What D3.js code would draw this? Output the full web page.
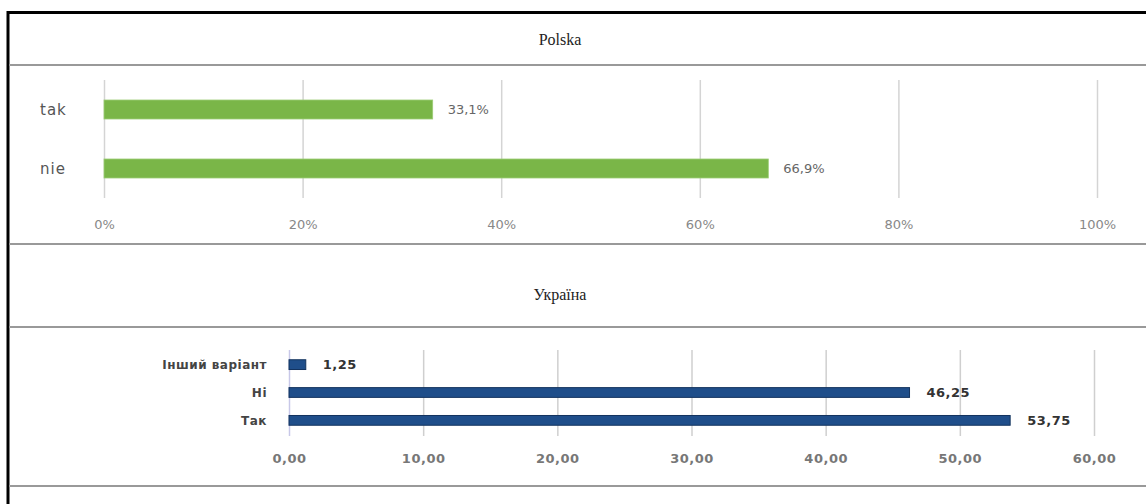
<!DOCTYPE html>
<html>
<head>
<meta charset="utf-8">
<script src="https://cdn.jsdelivr.net/npm/d3@7"></script>
<style>
  body { margin: 0; background: #fff; }
</style>
</head>
<body>
<div id="chart"></div>
<script>
var plCategories = ['tak', 'nie']
var plValues = [33.1, 66.9]
var plTicks = [0, 20, 40, 60, 80, 100]

var uaCategories = ['Інший варіант', 'Ні', 'Так']
var uaValues = [1.25, 46.25, 53.75]
var uaTicks = [0, 10, 20, 30, 40, 50, 60]

var width = 1146
var height = 504

var svg = d3
  .select('#chart')
  .append('svg')
  .attr('width', width)
  .attr('height', height)

svg.append('rect').attr('width', width).attr('height', height).attr('fill', '#fff')

// frame: black top + left, grey dividers
svg.append('line').attr('x1', 7).attr('x2', width).attr('y1', 12.5).attr('y2', 12.5)
  .attr('stroke', '#000').attr('stroke-width', 3)
svg.append('line').attr('x1', 8).attr('x2', 8).attr('y1', 11).attr('y2', height)
  .attr('stroke', '#000').attr('stroke-width', 3)

;[65, 244, 327, 486].forEach(function(y) {
  svg.append('line').attr('x1', 9).attr('x2', width).attr('y1', y).attr('y2', y)
    .attr('stroke', '#999').attr('stroke-width', 2)
})

// titles
svg.append('text').attr('x', 560).attr('y', 45).attr('text-anchor', 'middle')
  .attr('font-family', 'Liberation Serif, Times New Roman, serif').attr('font-size', 16)
  .attr('fill', '#222').text('Polska')
svg.append('text').attr('x', 560).attr('y', 300).attr('text-anchor', 'middle')
  .attr('font-family', 'Liberation Serif, Times New Roman, serif').attr('font-size', 16)
  .attr('fill', '#222').text('Україна')

// ---- Polska ----
var xPl = d3.scaleLinear().domain([0, 100]).range([104, 1097])
var yPl = d3.scaleBand().domain(plCategories).range([80, 198]).paddingInner(0.678).paddingOuter(0.339)

var gPl = svg.append('g')

gPl.selectAll('.grid')
  .data(plTicks)
  .enter()
  .append('line')
  .attr('x1', d => xPl(d) + 0.5)
  .attr('x2', d => xPl(d) + 0.5)
  .attr('y1', 80)
  .attr('y2', 198)
  .attr('stroke', '#d4d4d4')
  .attr('stroke-width', 1.5)

gPl.selectAll('.bar')
  .data(plValues)
  .enter()
  .append('rect')
  .attr('x', xPl(0))
  .attr('y', (d, i) => yPl(plCategories[i]))
  .attr('width', d => xPl(d) - xPl(0))
  .attr('height', yPl.bandwidth())
  .attr('fill', '#7ab648')
  .attr('stroke', '#9ccc75')
  .attr('stroke-width', 0.8)

gPl.selectAll('.val')
  .data(plValues)
  .enter()
  .append('text')
  .attr('x', d => xPl(d) + 15)
  .attr('y', (d, i) => yPl(plCategories[i]) + yPl.bandwidth() / 2)
  .attr('dy', '0.35em')
  .attr('font-family', 'DejaVu Sans, Verdana, sans-serif')
  .attr('font-size', 13)
  .attr('fill', '#666')
  .text(d => d.toFixed(1).replace('.', ',') + '%')

gPl.selectAll('.cat')
  .data(plCategories)
  .enter()
  .append('text')
  .attr('x', 40)
  .attr('y', d => yPl(d) + yPl.bandwidth() / 2)
  .attr('dy', '0.35em')
  .attr('font-family', 'DejaVu Sans, Verdana, sans-serif')
  .attr('font-size', 15)
  .attr('letter-spacing', 1)
  .attr('fill', '#555')
  .text(d => d)

var axisPl = d3.axisBottom(xPl).tickValues(plTicks).tickSize(0).tickPadding(0)
  .tickFormat(d => d + '%')
gPl.append('g')
  .attr('transform', 'translate(0,224)')
  .call(axisPl)
  .call(g => g.select('.domain').remove())
  .selectAll('text')
  .attr('dy', '0.35em')
  .attr('font-family', 'DejaVu Sans, Verdana, sans-serif')
  .attr('font-size', 13)
  .attr('fill', '#888')

// ---- Україна ----
var xUa = d3.scaleLinear().domain([0, 60]).range([289, 1094])
var yUa = d3.scaleBand().domain(uaCategories).range([350, 435]).paddingInner(0.65).paddingOuter(0.35)

var gUa = svg.append('g')

gUa.selectAll('.grid')
  .data(uaTicks)
  .enter()
  .append('line')
  .attr('x1', d => xUa(d) + 0.5)
  .attr('x2', d => xUa(d) + 0.5)
  .attr('y1', 350)
  .attr('y2', 436)
  .attr('stroke', (d, i) => i === 0 ? '#c8c8e8' : '#cfcfcf')
  .attr('stroke-width', 1.5)

gUa.selectAll('.bar')
  .data(uaValues)
  .enter()
  .append('rect')
  .attr('x', xUa(0))
  .attr('y', (d, i) => yUa(uaCategories[i]))
  .attr('width', d => xUa(d) - xUa(0))
  .attr('height', yUa.bandwidth())
  .attr('fill', '#1f4e8a')
  .attr('stroke', '#13335e')
  .attr('stroke-width', 1)

gUa.selectAll('.val')
  .data(uaValues)
  .enter()
  .append('text')
  .attr('x', d => xUa(d) + 17)
  .attr('y', (d, i) => yUa(uaCategories[i]) + yUa.bandwidth() / 2)
  .attr('dy', '0.35em')
  .attr('font-family', 'DejaVu Sans, Verdana, sans-serif')
  .attr('font-size', 13)
  .attr('font-weight', 'bold')
  .attr('letter-spacing', 0.5)
  .attr('fill', '#333')
  .text(d => d.toFixed(2).replace('.', ','))

gUa.selectAll('.cat')
  .data(uaCategories)
  .enter()
  .append('text')
  .attr('x', 267)
  .attr('y', d => yUa(d) + yUa.bandwidth() / 2)
  .attr('dy', '0.35em')
  .attr('text-anchor', 'end')
  .attr('font-family', 'DejaVu Sans, Verdana, sans-serif')
  .attr('font-size', 12)
  .attr('font-weight', 'bold')
  .attr('letter-spacing', 0.5)
  .attr('fill', '#444')
  .text(d => d)

var axisUa = d3.axisBottom(xUa).tickValues(uaTicks).tickSize(0).tickPadding(0)
  .tickFormat(d => d.toFixed(2).replace('.', ','))
gUa.append('g')
  .attr('transform', 'translate(0,458)')
  .call(axisUa)
  .call(g => g.select('.domain').remove())
  .selectAll('text')
  .attr('dy', '0.35em')
  .attr('font-family', 'DejaVu Sans, Verdana, sans-serif')
  .attr('font-size', 13)
  .attr('font-weight', 'bold')
  .attr('letter-spacing', 0.5)
  .attr('fill', '#777')
</script>
</body>
</html>
